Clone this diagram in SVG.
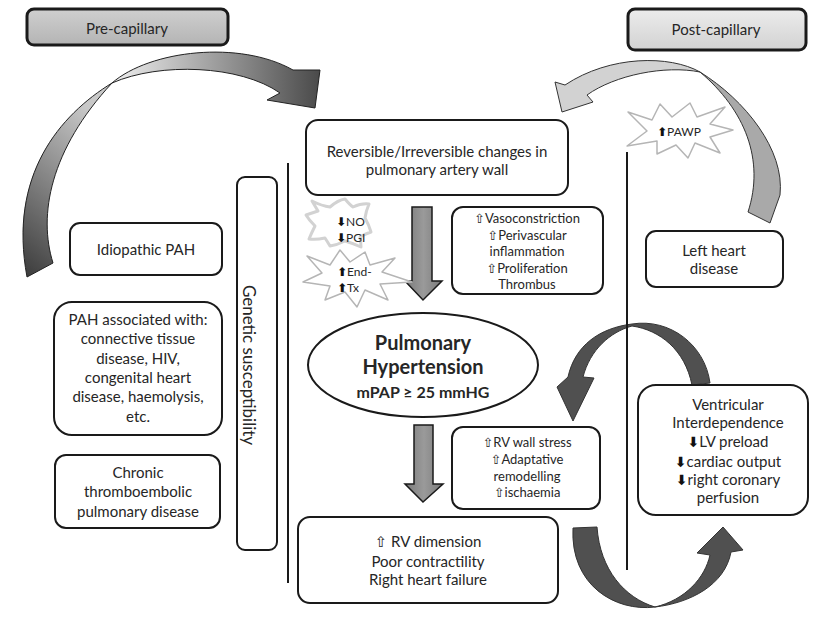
<svg xmlns="http://www.w3.org/2000/svg" width="813" height="617" viewBox="0 0 813 617">
<style>
.box{fill:#fff;stroke:#1a1a1a;stroke-width:2}
.t{font-family:Lato,'DejaVu Sans',sans-serif;font-size:15px;fill:#262626;text-anchor:middle}
.s{font-size:13px}
.sm{font-family:Lato,'DejaVu Sans',sans-serif;font-size:12px;fill:#262626}
.b{font-weight:bold}
.ar{font-family:'DejaVu Sans',sans-serif;font-weight:bold;font-size:12px;fill:#111}
.up{font-family:'DejaVu Sans',sans-serif;font-weight:normal;fill:#262626}
.star{fill:#fff;stroke:#b5b5b5;stroke-width:1.5;stroke-linejoin:round}
.soft{fill:#fff;stroke:#d2d2d2;stroke-width:3;stroke-linejoin:round}
.line{stroke:#1a1a1a;stroke-width:2;fill:none}
.garrow{fill:url(#gArrow);stroke:#1a1a1a;stroke-width:1.5}
.dark{fill:#505050;stroke:#333;stroke-width:1}
</style>
<defs>
<linearGradient id="gPre" x1="0" y1="0" x2="0" y2="1"><stop offset="0" stop-color="#cfcfcf"/><stop offset="1" stop-color="#b4b4b4"/></linearGradient>
<linearGradient id="gPost" x1="0" y1="0" x2="0" y2="1"><stop offset="0" stop-color="#ececec"/><stop offset="1" stop-color="#d2d2d2"/></linearGradient>
<linearGradient id="gArrow" x1="0" y1="0" x2="1" y2="0"><stop offset="0" stop-color="#7a7a7a"/><stop offset="0.5" stop-color="#9a9a9a"/><stop offset="1" stop-color="#7a7a7a"/></linearGradient>
<linearGradient id="gLow" x1="0" y1="1" x2="0.4" y2="0"><stop offset="0" stop-color="#3a3a3a"/><stop offset="1" stop-color="#c8c8c8"/></linearGradient>
<linearGradient id="gUp" x1="0" y1="0" x2="1" y2="0"><stop offset="0" stop-color="#f0f0f0"/><stop offset="1" stop-color="#4a4a4a"/></linearGradient>
</defs>

<g id="connectors">
<path d="M112,83 C60,115 8,175 27,277 L53,263 C38,215 50,150 112,83 Z" fill="url(#gLow)" stroke="#222" stroke-width="1"/>
<path d="M112,83 C150,50 240,40 293,70 L320,70 L315,108 L267,100 L280,93 C240,65 160,62 112,83 Z" fill="url(#gUp)" stroke="#222" stroke-width="1"/>
<path d="M700,72 C745,100 785,150 780,195 L770,223 L748,212 C765,160 745,110 700,72 Z" fill="#a9a9a9" stroke="#333" stroke-width="1"/>
<path d="M700,72 C670,55 610,55 565,85 L555,82 L562,112 L593,102 L587,95 C615,75 665,65 700,72 Z" fill="#d2d2d2" stroke="#333" stroke-width="1"/>
<path class="dark" d="M710,383 C705,345 670,318 632,324 C600,328 575,345 568,377 L557,387 L573,421 L594,378 L583,377 C590,350 610,332 632,326 C660,330 685,350 692,385 Z"/>
<path class="dark" d="M573,528 C570,585 615,612 655,607 C690,603 725,585 731,552 L743,550 L723,527 L697,553 L710,555 C705,578 685,600 655,607 C625,598 600,570 597,527 Z"/>
<path class="garrow" d="M412,207 L432,207 L432,281 L442,281 L423,300 L405,281 L412,281 Z"/>
<path class="garrow" d="M414,425 L433,425 L433,484 L443,484 L423,502 L405,484 L414,484 Z"/>
<line class="line" x1="288" y1="163" x2="288" y2="583"/>
<line class="line" x1="627" y1="152" x2="627" y2="570"/>
</g>

<g id="pre-capillary">
<rect x="27" y="9" width="201" height="36" rx="7" fill="url(#gPre)" stroke="#1a1a1a" stroke-width="3"/>
<text class="t" x="127" y="34">Pre-capillary</text>
</g>
<g id="post-capillary">
<rect x="628" y="9" width="178" height="41" rx="7" fill="url(#gPost)" stroke="#1a1a1a" stroke-width="3"/>
<text class="t" x="716" y="35">Post-capillary</text>
</g>

<g id="reversible">
<rect class="box" x="306" y="120" width="262" height="75" rx="12"/>
<text class="t" x="437" y="157">Reversible/Irreversible changes in</text>
<text class="t" x="437" y="175">pulmonary artery wall</text>
</g>

<g id="no-pgi">
<path class="soft" d="M312,201 Q322,206 330,207 Q338,200 345,199 Q350,205 353,207 Q362,203 369,204 Q366,211 365,218 Q369,225 371,232 Q365,234 360,237 Q361,243 361,247 Q352,243 345,241 Q337,245 330,246 Q327,241 325,238 Q316,240 309,239 Q312,232 315,226 Q309,220 306,215 Q312,213 318,211 Q315,206 312,201 Z"/>
<text class="sm" x="336" y="226"><tspan class="ar">⬇</tspan>NO</text>
<text class="sm" x="336" y="242"><tspan class="ar">⬇</tspan>PGI</text>
</g>

<g id="end-tx">
<path class="star" d="M307,256 L330,265 L340,250 L350,262 L365,252 L370,265 L395,258 L382,272 L412,282 L380,284 L388,300 L365,290 L357,307 L345,292 L325,300 L330,286 L303,282 L322,273 Z"/>
<text class="sm" x="337" y="276"><tspan class="ar">⬆</tspan>End-</text>
<text class="sm" x="337" y="292"><tspan class="ar">⬆</tspan>Tx</text>
</g>

<g id="vasoconstriction">
<rect class="box" x="452" y="207" width="151" height="87" rx="11"/>
<text class="t s" x="527" y="223"><tspan class="up">⇧</tspan>Vasoconstriction</text>
<text class="t s" x="527" y="240"><tspan class="up">⇧</tspan>Perivascular</text>
<text class="t s" x="527" y="256">inflammation</text>
<text class="t s" x="527" y="273"><tspan class="up">⇧</tspan>Proliferation</text>
<text class="t s" x="527" y="289">Thrombus</text>
</g>

<g id="pawp">
<path class="star" d="M628,112 L652,120 L660,104 L672,117 L690,103 L697,117 L725,107 L710,124 L733,130 L710,137 L720,153 L695,143 L688,158 L676,145 L657,154 L657,141 L627,146 L647,131 Z"/>
<text class="sm" x="657" y="136"><tspan class="ar">⬆</tspan>PAWP</text>
</g>

<g id="genetic">
<rect class="box" x="237" y="177" width="40" height="373" rx="8"/>
<text class="t" style="font-size:17px" transform="translate(243,365) rotate(90)" x="0" y="0">Genetic susceptibility</text>
</g>

<g id="idiopathic">
<rect class="box" x="70" y="223" width="152" height="52" rx="10"/>
<text class="t" x="146" y="255">Idiopathic PAH</text>
</g>

<g id="pah-associated">
<rect class="box" x="54" y="302" width="168" height="133" rx="18"/>
<text class="t" x="138" y="325">PAH associated with:</text>
<text class="t" x="138" y="344">connective tissue</text>
<text class="t" x="138" y="364">disease, HIV,</text>
<text class="t" x="138" y="383">congenital heart</text>
<text class="t" x="138" y="402">disease, haemolysis,</text>
<text class="t" x="138" y="422">etc.</text>
</g>

<g id="chronic">
<rect class="box" x="55" y="455" width="165" height="73" rx="11"/>
<text class="t" x="138" y="478">Chronic</text>
<text class="t" x="138" y="497">thromboembolic</text>
<text class="t" x="138" y="517">pulmonary disease</text>
</g>

<g id="left-heart">
<rect class="box" x="646" y="231" width="137" height="56" rx="10"/>
<text class="t" x="714" y="256">Left heart</text>
<text class="t" x="714" y="274">disease</text>
</g>

<g id="pulmonary-hypertension">
<ellipse cx="423" cy="365" rx="115" ry="52" fill="#fff" stroke="#1a1a1a" stroke-width="2"/>
<text class="t b" style="font-size:20px" x="423" y="350">Pulmonary</text>
<text class="t b" style="font-size:20px" x="423" y="374">Hypertension</text>
<text class="t b" style="font-size:16px" x="423" y="398">mPAP ≥ 25 mmHG</text>
</g>

<g id="rv-stress">
<rect class="box" x="452" y="427" width="148" height="82" rx="11"/>
<text class="t s" x="527" y="447"><tspan class="up">⇧</tspan>RV wall stress</text>
<text class="t s" x="527" y="464"><tspan class="up">⇧</tspan>Adaptative</text>
<text class="t s" x="527" y="481">remodelling</text>
<text class="t s" x="527" y="497"><tspan class="up">⇧</tspan>ischaemia</text>
</g>

<g id="ventricular">
<rect class="box" x="638" y="385" width="170" height="130" rx="18"/>
<text class="t" x="728" y="410">Ventricular</text>
<text class="t" x="728" y="428">Interdependence</text>
<text class="t" x="728" y="447"><tspan class="ar" style="font-size:14px">⬇</tspan>LV preload</text>
<text class="t" x="728" y="467"><tspan class="ar" style="font-size:14px">⬇</tspan>cardiac output</text>
<text class="t" x="728" y="485"><tspan class="ar" style="font-size:14px">⬇</tspan>right coronary</text>
<text class="t" x="728" y="503">perfusion</text>
</g>

<g id="rv-dimension">
<rect class="box" x="298" y="517" width="260" height="86" rx="12"/>
<text class="t" x="428" y="547"><tspan class="up">⇧</tspan> RV dimension</text>
<text class="t" x="428" y="567">Poor contractility</text>
<text class="t" x="428" y="585">Right heart failure</text>
</g>
</svg>
